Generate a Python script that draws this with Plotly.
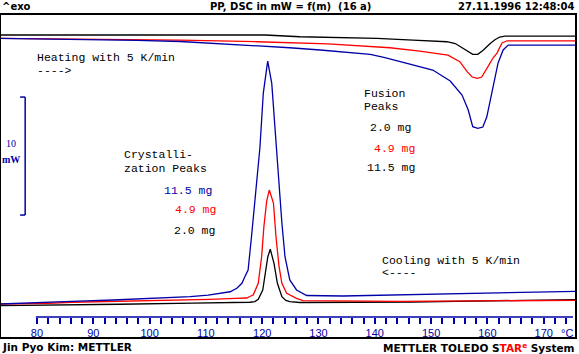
import plotly.graph_objects as go

# ---------------- data (temperature in °C, heat flow in mW, arbitrary offset) ----------------
# Heating runs (5 K/min), fusion peaks
heat_black_T = [73.4, 105.4, 120.5, 126.7, 140.4, 146.8, 152.8, 154.3, 155.5, 156.6, 157.4, 158.3,
                159.2, 160.5, 161.4, 162.2, 163.1, 175.7]
heat_black_mW = [25.68, 25.68, 25.68, 25.53, 25.40, 25.25, 25.11, 24.96, 24.62, 24.24, 24.04, 24.04,
                 24.36, 24.96, 25.30, 25.51, 25.59, 25.59]

heat_red_T = [73.4, 89.4, 105.4, 119.1, 131.7, 142.7, 148.0, 153.0, 155.1, 156.4, 157.3, 158.2,
              159.0, 160.1, 161.0, 161.7, 162.6, 163.5, 175.7]
heat_red_mW = [25.39, 25.31, 25.25, 25.11, 24.92, 24.60, 24.32, 23.98, 23.42, 22.57, 22.12, 22.01,
               22.12, 23.00, 23.73, 24.15, 25.00, 25.19, 25.19]

heat_blue_T = [73.4, 89.1, 97.8, 105.4, 112.0, 119.6, 124.9, 130.3, 135.1, 139.2, 141.8, 144.5,
               150.3, 153.4, 155.5, 156.6, 157.4, 158.3, 159.2, 159.9, 160.5, 161.0, 161.9, 162.8,
               163.7, 175.7]
heat_blue_mW = [25.40, 25.31, 25.23, 25.13, 24.97, 24.77, 24.60, 24.41, 24.21, 24.04, 23.77, 23.42,
                22.71, 21.78, 20.59, 19.32, 17.91, 17.77, 17.88, 18.75, 20.17, 21.30, 23.31, 24.41,
                24.83, 24.83]

# Cooling runs (5 K/min), crystallization peaks
cool_black_T = [73.4, 83.2, 94.7, 107.7, 115.5, 117.8, 118.7, 119.3, 120.1, 120.5, 121.0, 121.44,
                122.1, 122.7, 123.5, 124.2, 124.9, 126.7, 132.9, 146.6, 154.4, 160.8, 172.9, 175.7]
cool_black_mW = [2.74, 2.78, 2.86, 2.95, 2.99, 3.03, 3.09, 3.28, 4.07, 5.19, 6.89, 7.52,
                 6.33, 4.64, 3.50, 3.19, 3.09, 3.01, 3.01, 3.05, 3.11, 3.14, 3.25, 3.26]

cool_red_T = [73.4, 80.5, 82.0, 86.2, 95.6, 104.9, 110.7, 115.2, 117.25, 117.8, 118.4, 119.3,
              119.9, 120.3, 120.8, 121.26, 122.0, 122.45, 123.0, 123.5, 124.35, 126.1, 127.25,
              144.5, 162.2, 175.7]
cool_red_mW = [2.88, 2.88, 2.94, 3.03, 3.11, 3.19, 3.28, 3.35, 3.39, 3.52, 3.64, 4.64,
               6.89, 9.43, 11.61, 12.54, 11.44, 8.58, 6.04, 4.64, 3.79, 3.36, 3.16,
               3.11, 3.14, 3.19]

cool_blue_T = [73.4, 77.9, 83.4, 88.7, 93.5, 98.8, 103.6, 107.2, 110.4, 112.5, 114.3, 115.5,
               116.4, 116.9, 117.5, 118.1, 118.7, 119.6, 120.2, 120.98, 121.7, 122.3, 122.9,
               123.5, 124.05, 124.9, 126.1, 127.9, 134.35, 143.2, 153.7, 161.9, 170.4, 175.7]
cool_blue_mW = [2.88, 2.94, 3.03, 3.14, 3.22, 3.31, 3.39, 3.50, 3.64, 3.79, 3.92, 4.21,
                4.64, 5.17, 5.76, 8.58, 11.61, 16.14, 20.76, 23.47, 21.58, 17.37, 13.14,
                9.75, 6.89, 4.92, 4.07, 3.60, 3.56, 3.64, 3.73, 3.81, 3.90, 3.96]

# axis ticks
major_ticks = [80, 90, 100, 110, 120, 130, 140, 150, 160, 170]
minor_ticks = list(range(80, 176, 2))
x_range = [73.43, 175.74]
y_range = [0.0, 27.46]

# scale bar
SCALE_MW = 10
scale_bar_T = 77.9
scale_bar_base = 10.42

# ---------------- styling ----------------
BLACK = "#000000"
RED = "#ff0000"
NAVY = "#0000a8"
MONO = "Liberation Mono"
HDR = "DejaVu Sans"

fig = go.Figure()

def add_line(T, y, color):
    fig.add_trace(go.Scatter(x=T, y=y, mode="lines", line=dict(color=color, width=1.3),
                             hoverinfo="skip", showlegend=False))

add_line(heat_black_T, heat_black_mW, BLACK)
add_line(heat_red_T, heat_red_mW, RED)
add_line(heat_blue_T, heat_blue_mW, NAVY)
add_line(cool_black_T, cool_black_mW, BLACK)
add_line(cool_red_T, cool_red_mW, RED)
add_line(cool_blue_T, cool_blue_mW, NAVY)

AXIS_POS = 0.065

shapes = [
    # frame
    dict(type="rect", xref="paper", yref="paper", x0=0, x1=1, y0=0, y1=1,
         line=dict(color=BLACK, width=2)),
    # temperature axis line
    dict(type="line", xref="x", yref="paper", x0=79.8, x1=175.2, y0=AXIS_POS, y1=AXIS_POS,
         line=dict(color=NAVY, width=1.5)),
    # scale bar
    dict(type="line", xref="x", yref="y", x0=scale_bar_T, x1=scale_bar_T,
         y0=scale_bar_base, y1=scale_bar_base + SCALE_MW, line=dict(color=NAVY, width=1.5)),
    dict(type="line", xref="x", yref="y", x0=scale_bar_T - 0.9, x1=scale_bar_T,
         y0=scale_bar_base, y1=scale_bar_base, line=dict(color=NAVY, width=1.5)),
    dict(type="line", xref="x", yref="y", x0=scale_bar_T - 0.9, x1=scale_bar_T,
         y0=scale_bar_base + SCALE_MW, y1=scale_bar_base + SCALE_MW, line=dict(color=NAVY, width=1.5)),
]

def txt(x, y, s, color=BLACK, size=11.5, family=MONO, xanchor="left", xref="x", yref="y"):
    return dict(x=x, y=y, xref=xref, yref=yref, text=s, showarrow=False, xanchor=xanchor,
                yanchor="middle", font=dict(family=family, size=size, color=color))

annotations = [
    txt(79.64, 23.79, "Heating with 5 K/min"),
    txt(79.64, 22.71, "---->"),
    txt(137.73, 20.76, "Fusion"),
    txt(137.73, 19.66, "Peaks"),
    txt(138.79, 17.80, "2.0 mg"),
    txt(139.50, 16.10, "4.9 mg", RED),
    txt(138.26, 14.49, "11.5 mg"),
    txt(95.04, 15.59, "Crystalli-"),
    txt(95.04, 14.38, "zation Peaks"),
    txt(102.15, 12.48, "11.5 mg", NAVY),
    txt(104.10, 10.85, "4.9 mg", RED),
    txt(103.93, 9.09, "2.0 mg"),
    txt(140.92, 6.61, "Cooling with 5 K/min"),
    txt(140.92, 5.51, "<----"),
    # scale bar label
    txt(75.3, scale_bar_base + 6.1, str(SCALE_MW), NAVY, 10, "Liberation Serif", "center"),
    txt(75.3, scale_bar_base + 4.75, "<b>mW</b>", NAVY, 10, "Liberation Serif", "center"),
    # unit
    txt(174.1, 0.0154, "°C", NAVY, 11, "Liberation Sans", "center", "x", "paper"),
    # header
    txt(0.0, 1.022, "<b>^exo</b>", BLACK, 10, HDR, "left", "paper", "paper"),
    txt(0.5035, 1.022, "<b>PP, DSC in mW = f(m)  (16 a)</b>", BLACK, 10, HDR, "center", "paper", "paper"),
    txt(1.002, 1.022, "<b>27.11.1996 12:48:04</b>", BLACK, 10, HDR, "right", "paper", "paper"),
    # footer
    txt(0.0, -0.028, "<b>Jin Pyo Kim: METTLER</b>", BLACK, 10.5, HDR, "left", "paper", "paper"),
    txt(1.002, -0.028,
        "<b>METTLER TOLEDO S<span style='color:#ff0000'>TAR<sup>e</sup></span> System</b>",
        BLACK, 10.5, HDR, "right", "paper", "paper"),
]

fig.update_layout(
    width=579, height=354,
    margin=dict(l=0, r=3, t=14, b=16),
    paper_bgcolor="white", plot_bgcolor="white",
    showlegend=False,
    shapes=shapes,
    annotations=annotations,
    xaxis=dict(
        range=x_range, showgrid=False, zeroline=False, showline=False,
        anchor="free", position=AXIS_POS,
        tickmode="array", tickvals=major_ticks, ticktext=[str(v) for v in major_ticks],
        ticks="outside", ticklen=6, tickwidth=1.5, tickcolor=NAVY,
        tickfont=dict(family="Liberation Sans", size=11, color=NAVY),
        minor=dict(tickmode="array", tickvals=minor_ticks, ticks="outside",
                   ticklen=6, tickwidth=1.5, tickcolor=NAVY, showgrid=False),
        fixedrange=True,
    ),
    yaxis=dict(range=y_range, visible=False, showgrid=False, zeroline=False, fixedrange=True),
)

fig.write_html("out.html")
